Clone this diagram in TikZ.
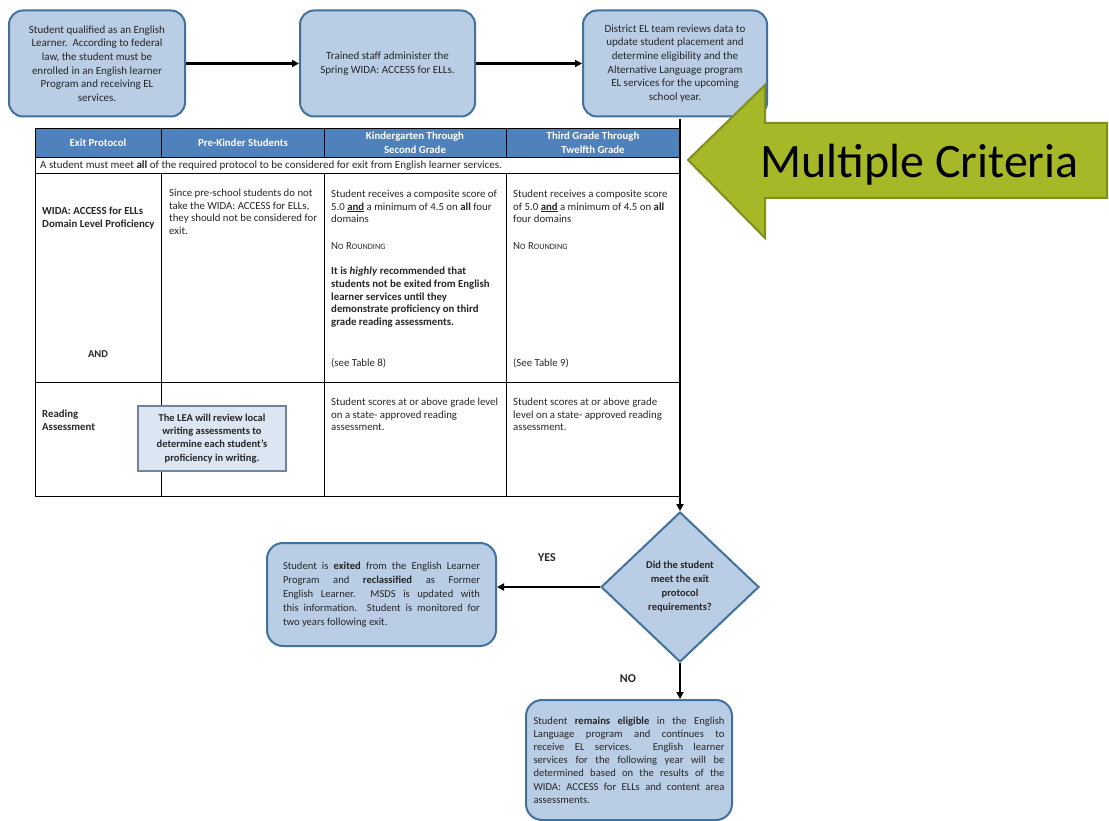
\documentclass[tikz,border=0pt]{standalone}
\usepackage{fontspec}
\setmainfont{Carlito}
\usetikzlibrary{shapes.geometric,arrows.meta}
\definecolor{bfill}{HTML}{B9CDE5}
\definecolor{bdraw}{HTML}{41719C}
\definecolor{hfill}{HTML}{4F81BD}
\definecolor{ofill}{HTML}{DCE6F2}
\definecolor{odraw}{HTML}{71839A}
\definecolor{gfill}{HTML}{A6B727}
\definecolor{gdraw}{HTML}{7F8F1F}
\definecolor{txt}{HTML}{262626}
\newcommand\nrsc{N{\fontsize{8.2}{10}\selectfont O} R{\fontsize{8.2}{10}\selectfont OUNDING}}
\begin{document}
\begin{tikzpicture}[x=1pt,y=-1pt,
 flowbox/.style={draw=bdraw, fill=bfill, line width=2pt, rounded corners=14pt, inner sep=0pt, text=txt},
 topfont/.style={font=\fontsize{11}{13.7}\selectfont},
 conn/.style={line width=2.2pt, -{Triangle[length=7pt,width=7pt]}},
 cell/.style={anchor=north west, inner sep=0pt, align=left, font=\fontsize{10.8}{12.5}\selectfont, text=txt},
 bcell/.style={cell, font=\bfseries\fontsize{10.8}{12.7}\selectfont},
 scell/.style={cell, anchor=base west},
 hdr/.style={text=white, font=\bfseries\fontsize{10.8}{14}\selectfont, align=center, inner sep=0pt},
 grid/.style={line width=0.9pt, draw=black},
 lbl/.style={font=\bfseries\fontsize{12}{14}\selectfont, text=txt, inner sep=0pt}
]
\useasboundingbox (0,0) rectangle (1109,821);

% top flow
\node[flowbox, topfont, minimum width=176pt, minimum height=106pt, align=center] (b1) at (97,63.5) {Student qualified as an English\\Learner.\ \ According to federal\\law, the student must be\\enrolled in an English learner\\Program and receiving EL\\services.};
\node[flowbox, topfont, minimum width=175pt, minimum height=106pt, align=center] (b2) at (387.5,63.5) {Trained staff administer the\\Spring WIDA: ACCESS for ELLs.};
\node[flowbox, topfont, minimum width=184pt, minimum height=106pt, align=center] (b3) at (675,63.5) {District EL team reviews data to\\update student placement and\\determine eligibility and the\\Alternative Language program\\EL services for the upcoming\\school year.};
\draw[conn] (b1.east) -- (b2.west);
\draw[conn] (b2.east) -- (b3.west);

% table
\fill[hfill] (35,128) rectangle (680,157);
\draw[grid] (35,128) rectangle (680,496);
\draw[grid] (35,157) -- (680,157);
\draw[grid] (35,173) -- (680,173);
\draw[grid] (35,382) -- (680,382);
\foreach \x in {161,324,506} {
  \draw[grid] (\x,128) -- (\x,157);
  \draw[grid] (\x,173) -- (\x,496);
}
\node[hdr] (h1) at (98,143) {Exit Protocol};
\node[hdr] (h2) at (243,143) {Pre-Kinder Students};
\node[hdr] (h3) at (415,143) {Kindergarten Through\\Second Grade};
\node[hdr] (h4) at (593,143) {Third Grade Through\\Twelfth Grade};
\node[scell, font=\fontsize{11}{13}\selectfont] (note) at (40,168.5) {A student must meet \textbf{all} of the required protocol to be considered for exit from English learner services.};

\node[bcell] (c1a) at (42,207) {WIDA: ACCESS for ELLs\\Domain Level Proficiency};
\node[lbl, font=\bfseries\fontsize{10.5}{12}\selectfont] (c1and) at (98,354) {AND};
\node[cell] (c2a) at (169,189) {Since pre-school students do not\\take the WIDA: ACCESS for ELLs,\\they should not be considered for\\exit.};
\node[cell] (c3a) at (331,190) {Student receives a composite score of\\5.0 \underline{\textbf{and}} a minimum of 4.5 on \textbf{all} four\\domains};
\node[scell] (c3nr) at (331,249.5) {\nrsc};
\node[bcell] (c3b) at (331,267) {It is \textit{highly} recommended that\\students not be exited from English\\learner services until they\\demonstrate proficiency on third\\grade reading assessments.};
\node[scell] (c3t) at (331,366) {(see Table 8)};
\node[cell] (c4a) at (513,190) {Student receives a composite score\\of 5.0 \underline{\textbf{and}} a minimum of 4.5 on \textbf{all}\\four domains};
\node[scell] (c4nr) at (513,249.5) {\nrsc};
\node[scell] (c4t) at (513,366) {(See Table 9)};

\node[bcell] (c1b) at (42,410) {Reading\\Assessment};
\node[cell] (c3c) at (331,398) {Student scores at or above grade level\\on a state- approved reading\\assessment.};
\node[cell] (c4c) at (513,398) {Student scores at or above grade\\level on a state- approved reading\\assessment.};
\node[draw=odraw, fill=ofill, line width=1.2pt, minimum width=148pt, minimum height=65pt, align=center, inner sep=0pt, text=txt, font=\bfseries\fontsize{10.5}{13.2}\selectfont] (lea) at (212,438.5) {The LEA will review local\\writing assessments to\\determine each student's\\proficiency in writing.};

% decision
\node[diamond, draw=bdraw, fill=bfill, line width=2pt, minimum width=158pt, minimum height=150pt, inner sep=0pt, align=center, text=txt, font=\bfseries\fontsize{10.5}{14}\selectfont] (d) at (680,587) {Did the student\\meet the exit\\protocol\\requirements?};
\coordinate (vtop) at (680,119);
\draw[conn] (vtop) -- (d.north);

\node[flowbox, rounded corners=16pt, minimum width=229pt, minimum height=103pt, text width=197pt, align=justify, font=\fontsize{10.6}{14}\selectfont] (ex) at (381.5,594.5) {Student is \textbf{exited} from the English Learner\linebreak Program and \textbf{reclassified} as Former\linebreak English Learner.\ \ MSDS is updated with\linebreak this information.\ \ Student is monitored for\linebreak two years following exit.};
\draw[conn] (d.west) -- (d.west -| ex.east);
\node[lbl] (yes) at (547,558) {YES};

\node[flowbox, rounded corners=16pt, minimum width=206pt, minimum height=120pt, text width=191pt, align=justify, font=\fontsize{10.6}{13.2}\selectfont] (rem) at (629,760) {Student \textbf{remains eligible} in the English\linebreak Language program and continues to\linebreak receive EL services.\ \ English learner\linebreak services for the following year will be\linebreak determined based on the results of the\linebreak WIDA: ACCESS for ELLs and content area\linebreak assessments.};
\draw[conn] (d.south) -- (d.south |- rem.north);
\node[lbl] (no) at (628,679) {NO};

% green arrow
\draw[fill=gfill, draw=gdraw, line width=2pt, line join=miter] (688,160) -- (765,85) -- (765,123) -- (1107,123) -- (1107,198) -- (765,198) -- (765,238) -- cycle;
\node[anchor=base west, inner sep=0pt, font=\fontsize{48}{50}\selectfont] (mc) at (760,178) {Multiple Criteria};
\end{tikzpicture}
\end{document}
